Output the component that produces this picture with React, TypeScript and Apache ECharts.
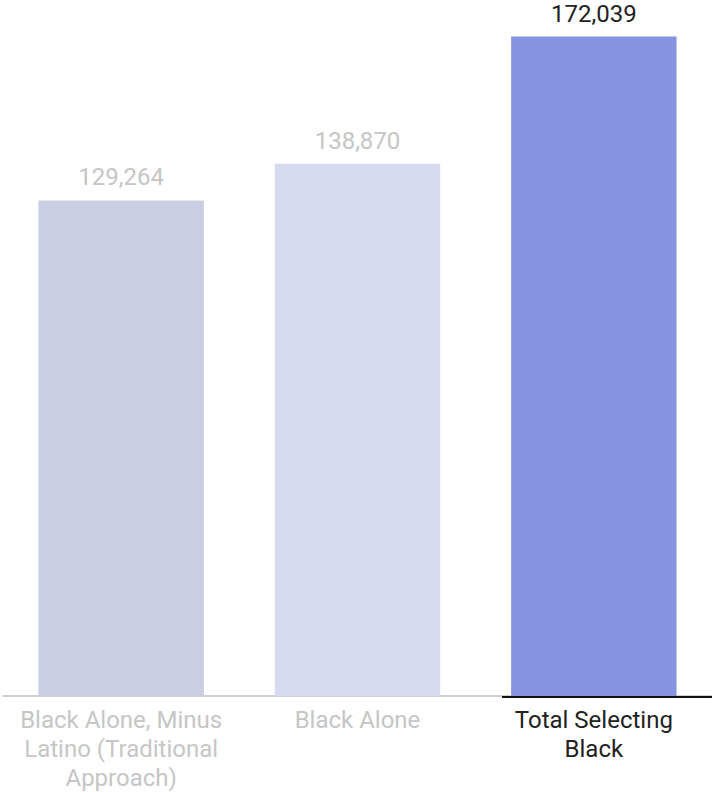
import React, { useEffect, useRef } from "react";
import * as echarts from "echarts";

const categories = [
  "Black Alone, Minus\nLatino (Traditional\nApproach)",
  "Black Alone",
  "Total Selecting\nBlack",
];
const values = [129264, 138870, 172039];
const barColors = ["#c9cee3", "#d6daee", "#8494e0"];
const labelColors = ["#c6c6c6", "#c6c6c6", "#222222"];

export default function App() {
  const ref = useRef<HTMLDivElement>(null);
  useEffect(() => {
    if (!ref.current) return;
    const chart = echarts.init(ref.current, null, { renderer: "svg" });
    chart.setOption({
      animation: false,
      grid: { left: 3, top: 36.5, width: 712, height: 660.5, containLabel: false },
      xAxis: {
        type: "category",
        data: categories,
        axisLine: { lineStyle: { color: "#c0c0c0", width: 1.5 } },
        axisTick: { show: false },
        axisLabel: {
          interval: 0,
          margin: 9,
          fontFamily: "Roboto",
          fontSize: 24,
          lineHeight: 29,
          color: (_v: string, i: number) => labelColors[i],
        },
      },
      yAxis: {
        type: "value",
        min: 0,
        max: 172039,
        show: false,
        splitLine: { show: false },
      },
      series: [
        {
          type: "bar",
          barWidth: "70%",
          data: values.map((v, i) => ({
            value: v,
            itemStyle: { color: barColors[i] },
            label: { color: labelColors[i] },
          })),
          label: {
            show: true,
            position: "top",
            distance: 11,
            fontFamily: "Roboto",
            fontSize: 24,
            formatter: (p: any) => p.value.toLocaleString("en-US"),
          },
        },
      ],
      graphic: [
        {
          type: "line",
          shape: { x1: 502, y1: 697, x2: 712, y2: 697 },
          style: { stroke: "#111111", lineWidth: 2 },
          z: 100,
        },
      ],
    });
    return () => chart.dispose();
  }, []);
  return (
    <div
      ref={ref}
      style={{ position: "absolute", left: 0, top: 0, width: 712, height: 792 }}
    />
  );
}
